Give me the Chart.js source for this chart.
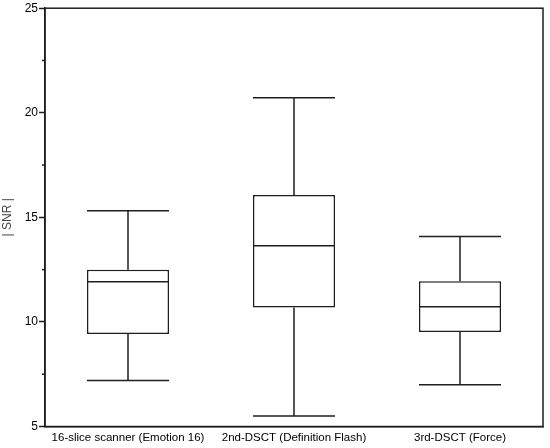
<!DOCTYPE html>
<html>
<head>
<meta charset="utf-8">
<script src="https://cdn.jsdelivr.net/npm/chart.js@4"></script>
<style>
  html, body { margin: 0; padding: 0; background: #fff; }
  #wrap { width: 550px; height: 448px; }
</style>
</head>
<body>
<div id="wrap"><canvas id="c"></canvas></div>
<script>
const labels = ['16-slice scanner (Emotion 16)', '2nd-DSCT (Definition Flash)', '3rd-DSCT (Force)'];
const whiskerLow = [7.2, 5.5, 7.0];
const q1 = [9.42, 10.69, 9.52];
const median = [11.92, 13.64, 10.73];
const q3 = [12.49, 16.07, 11.95];
const whiskerHigh = [15.31, 20.72, 14.08];

const lineColor = '#1e1e1e';

// whiskers, median and caps on top of the floating bars
const boxPlot = {
  id: 'boxPlot',
  afterDatasetsDraw(chart) {
    const ctx = chart.ctx;
    const x = chart.scales.x, y = chart.scales.y;
    const meta = chart.getDatasetMeta(0);
    const seg = (x1, y1, x2, y2) => {
      ctx.beginPath(); ctx.moveTo(x1, y1); ctx.lineTo(x2, y2); ctx.stroke();
    };
    ctx.save();
    ctx.strokeStyle = lineColor;
    ctx.lineWidth = 1.5;
    meta.data.forEach((bar, i) => {
      const cx = x.getPixelForValue(i);
      const half = bar.width / 2;
      seg(cx - half, y.getPixelForValue(median[i]), cx + half, y.getPixelForValue(median[i]));
      seg(cx, y.getPixelForValue(q3[i]), cx, y.getPixelForValue(whiskerHigh[i]));
      seg(cx, y.getPixelForValue(q1[i]), cx, y.getPixelForValue(whiskerLow[i]));
      seg(cx - half, y.getPixelForValue(whiskerHigh[i]), cx + half, y.getPixelForValue(whiskerHigh[i]));
      seg(cx - half, y.getPixelForValue(whiskerLow[i]), cx + half, y.getPixelForValue(whiskerLow[i]));
    });
    // frame round the plot
    const a = chart.chartArea;
    ctx.strokeRect(a.left, a.top, a.right - a.left, a.bottom - a.top);
    // short minor ticks
    y.ticks.forEach(t => {
      if (t.value % 5 !== 0) {
        const py = y.getPixelForValue(t.value);
        seg(a.left - 3, py, a.left, py);
      }
    });
    ctx.restore();
  }
};

new Chart(document.getElementById('c'), {
  type: 'bar',
  data: {
    labels: labels,
    datasets: [{
      data: q1.map((v, i) => [v, q3[i]]),
      backgroundColor: '#ffffff',
      borderColor: lineColor,
      borderWidth: 1.5,
      borderSkipped: false,
      barPercentage: 0.494,
      categoryPercentage: 1
    }]
  },
  options: {
    responsive: true,
    maintainAspectRatio: false,
    animation: false,
    layout: { padding: { top: 6.5, right: 7, bottom: 0, left: 0 } },
    plugins: { legend: { display: false }, tooltip: { enabled: false } },
    scales: {
      x: {
        grid: { display: false, drawTicks: false },
        border: { display: true, color: lineColor, width: 1.5 },
        ticks: { color: '#000', font: { family: 'Liberation Sans', size: 11.5 }, padding: 4, maxRotation: 0 },
        afterFit: s => { s.height = 21.5; }
      },
      y: {
        min: 5, max: 25,
        grid: {
          drawOnChartArea: false,
          tickLength: 6,
          tickWidth: 1.5,
          tickColor: c => (c.tick && c.tick.value % 5 === 0) ? lineColor : 'rgba(0,0,0,0)'
        },
        border: { display: true, color: lineColor, width: 1.5 },
        ticks: {
          stepSize: 2.5,
          autoSkip: false,
          color: '#000',
          padding: 1,
          font: { family: 'Liberation Sans', size: 12 },
          callback: v => v % 5 === 0 ? v : ''
        },
        title: {
          display: true,
          text: '| SNR |',
          color: '#444',
          font: { family: 'Liberation Sans', size: 12 },
          padding: { top: 0, bottom: 0 }
        },
        afterFit: s => { s.width = 45; }
      }
    }
  },
  plugins: [boxPlot]
});
</script>
</body>
</html>
